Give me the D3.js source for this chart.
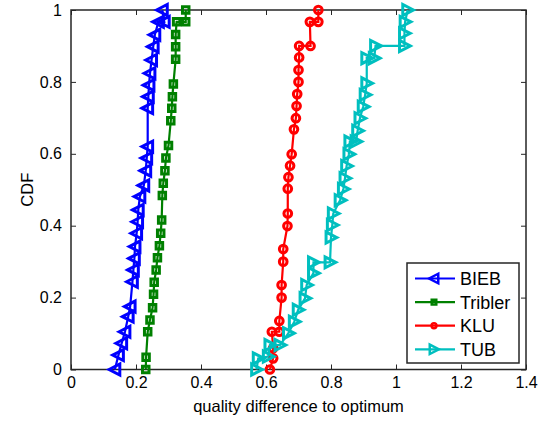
<!DOCTYPE html>
<html>
<head>
<meta charset="utf-8">
<script src="https://cdn.jsdelivr.net/npm/d3@7"></script>
<style>
  body { margin: 0; background: #fff; }
  text { font-family: "Liberation Sans", Arial, sans-serif; }
</style>
</head>
<body>
<div id="chart"></div>
<script>
// values, vertices in drawing order (bottom to top)
const biebX = [0.135, 0.146, 0.156, 0.166, 0.176, 0.182, 0.189, 0.192, 0.195, 0.197, 0.202, 0.205, 0.207, 0.212, 0.224, 0.230, 0.233, 0.236, 0.236, 0.238, 0.240, 0.243, 0.248, 0.253, 0.258, 0.269, 0.287, 0.281];
const biebY = [0, 0.040, 0.073, 0.105, 0.147, 0.175, 0.244, 0.277, 0.309, 0.342, 0.379, 0.411, 0.444, 0.481, 0.512, 0.553, 0.588, 0.620, 0.727, 0.759, 0.791, 0.824, 0.861, 0.898, 0.931, 0.967, 0.967, 1.0];

const triblerX = [0.230, 0.231, 0.236, 0.243, 0.251, 0.254, 0.256, 0.262, 0.266, 0.272, 0.276, 0.279, 0.281, 0.284, 0.289, 0.292, 0.300, 0.307, 0.310, 0.312, 0.315, 0.322, 0.322, 0.322, 0.325, 0.353, 0.353];
const triblerY = [0, 0.034, 0.105, 0.138, 0.172, 0.209, 0.243, 0.277, 0.311, 0.344, 0.379, 0.416, 0.484, 0.518, 0.553, 0.588, 0.623, 0.692, 0.727, 0.759, 0.794, 0.863, 0.898, 0.932, 0.967, 0.967, 1.0];

const kluX = [0.612, 0.622, 0.622, 0.618, 0.641, 0.641, 0.648, 0.648, 0.653, 0.653, 0.666, 0.667, 0.667, 0.669, 0.674, 0.679, 0.686, 0.692, 0.694, 0.696, 0.700, 0.700, 0.702, 0.702, 0.737, 0.735, 0.761, 0.761];
const kluY = [0, 0.031, 0.059, 0.105, 0.105, 0.135, 0.200, 0.235, 0.300, 0.335, 0.399, 0.434, 0.503, 0.535, 0.567, 0.599, 0.668, 0.699, 0.733, 0.766, 0.800, 0.833, 0.868, 0.900, 0.900, 0.967, 0.967, 1.0];

const tubX = [0.571, 0.576, 0.607, 0.612, 0.643, 0.669, 0.687, 0.699, 0.720, 0.725, 0.746, 0.746, 0.797, 0.800, 0.804, 0.807, 0.828, 0.838, 0.843, 0.848, 0.855, 0.858, 0.877, 0.882, 0.889, 0.899, 0.905, 0.910, 0.910, 0.933, 0.937, 1.026, 1.026, 1.028, 1.036];
const tubY = [0, 0.031, 0.036, 0.068, 0.068, 0.101, 0.133, 0.166, 0.198, 0.235, 0.268, 0.298, 0.298, 0.367, 0.402, 0.434, 0.471, 0.502, 0.532, 0.566, 0.599, 0.634, 0.634, 0.664, 0.699, 0.731, 0.764, 0.796, 0.866, 0.866, 0.900, 0.900, 0.935, 0.967, 1.0];

const seriesNames = ["BIEB", "Tribler", "KLU", "TUB"];
const seriesColours = ["#0000ff", "#008000", "#ff0000", "#00bfbf"];
const seriesMarkers = ["triLeft", "square", "circle", "triRight"];

const xTicks = [0, 0.2, 0.4, 0.6, 0.8, 1, 1.2, 1.4];
const yTicks = [0, 0.2, 0.4, 0.6, 0.8, 1];

const series = [
    { name: seriesNames[0], xs: biebX, ys: biebY },
    { name: seriesNames[1], xs: triblerX, ys: triblerY },
    { name: seriesNames[2], xs: kluX, ys: kluY },
    { name: seriesNames[3], xs: tubX, ys: tubY }
].map( (s, i) => ({
    name: s.name,
    colour: seriesColours[i],
    marker: seriesMarkers[i],
    points: s.xs.map( (x, j) => ({ x: x, y: s.ys[j] }) )
}));

const svgWidth = 556, svgHeight = 436;
const margin = { top: 10, right: 30, bottom: 66.5, left: 71 };
const width = svgWidth - margin.left - margin.right;
const height = svgHeight - margin.top - margin.bottom;

const svg = d3.select("#chart").append("svg")
    .attr("width", svgWidth)
    .attr("height", svgHeight);

const plotArea = svg.append("g")
    .attr("transform", `translate(${margin.left},${margin.top})`);

const x = d3.scaleLinear().domain([0, 1.4]).range([0, width]);
const y = d3.scaleLinear().domain([0, 1]).range([height, 0]);

const fmt = d => d3.format("~g")(d);

// marker paths, scale s
function markerPath(type, s) {
    if (type === "triLeft") return `M${-s},0L${s*0.85},${-s*0.95}L${s*0.85},${s*0.95}Z`;
    if (type === "triRight") return `M${s},0L${-s*0.85},${-s*0.95}L${-s*0.85},${s*0.95}Z`;
    if (type === "square") return `M${-s*0.65},${-s*0.65}h${s*1.3}v${s*1.3}h${-s*1.3}Z`;
    return `M${s*0.7},0A${s*0.7},${s*0.7},0,1,1,${-s*0.7},0A${s*0.7},${s*0.7},0,1,1,${s*0.7},0Z`;
}
const markerSize = { triLeft: 5.8, triRight: 5.8, square: 5, circle: 5.5 };

// axes, ticks inward on all four sides
const axisStyle = g => {
    g.select(".domain").remove();
    g.selectAll("line").attr("stroke", "#262626").attr("stroke-width", 1);
    g.selectAll("text").attr("font-size", 16).attr("fill", "#000");
};

plotArea.append("g")
    .attr("transform", `translate(0,${height})`)
    .call(d3.axisBottom(x).tickValues(xTicks).tickFormat(fmt).tickSizeInner(-5).tickSizeOuter(0).tickPadding(7))
    .call(axisStyle);

plotArea.append("g")
    .call(d3.axisTop(x).tickValues(xTicks).tickFormat("").tickSizeInner(-5).tickSizeOuter(0))
    .call(axisStyle);

plotArea.append("g")
    .call(d3.axisLeft(y).tickValues(yTicks).tickFormat(fmt).tickSizeInner(-5).tickSizeOuter(0).tickPadding(9))
    .call(axisStyle);

plotArea.append("g")
    .attr("transform", `translate(${width},0)`)
    .call(d3.axisRight(y).tickValues(yTicks).tickFormat("").tickSizeInner(-5).tickSizeOuter(0))
    .call(axisStyle);

plotArea.append("rect")
    .attr("width", width)
    .attr("height", height)
    .attr("fill", "none")
    .attr("stroke", "#262626")
    .attr("stroke-width", 1.5);

// series
const line = d3.line().x(d => x(d.x)).y(d => y(d.y));

const groups = plotArea.selectAll(".series")
    .data(series)
    .enter().append("g")
        .attr("class", "series");

groups.append("path")
    .attr("d", d => line(d.points))
    .attr("fill", "none")
    .attr("stroke", d => d.colour)
    .attr("stroke-width", 2.2);

groups.each(function(s) {
    d3.select(this).selectAll(".marker")
        .data(s.points)
        .enter().append("path")
            .attr("class", "marker")
            .attr("transform", d => `translate(${x(d.x)},${y(d.y)})`)
            .attr("d", markerPath(s.marker, markerSize[s.marker]))
            .attr("fill", "none")
            .attr("stroke", s.colour)
            .attr("stroke-width", 3)
            .attr("stroke-linejoin", "miter");
});

// axis titles
svg.append("text")
    .attr("x", margin.left + width / 2)
    .attr("y", 412)
    .attr("text-anchor", "middle")
    .attr("font-size", 16.5)
    .text("quality difference to optimum");

svg.append("text")
    .attr("transform", `translate(33,${margin.top + height / 2}) rotate(-90)`)
    .attr("text-anchor", "middle")
    .attr("font-size", 16.5)
    .text("CDF");

// legend
const legend = svg.append("g").attr("transform", "translate(407,263)");

legend.append("rect")
    .attr("width", 112)
    .attr("height", 100)
    .attr("fill", "#fff")
    .attr("stroke", "#262626")
    .attr("stroke-width", 1.5);

const items = legend.selectAll(".item")
    .data(series)
    .enter().append("g")
        .attr("class", "item")
        .attr("transform", (d, i) => `translate(0,${15.5 + i * 23.6})`);

items.append("line")
    .attr("x1", 8).attr("x2", 48)
    .attr("stroke", d => d.colour)
    .attr("stroke-width", 2.2);

items.append("path")
    .attr("transform", "translate(27,0)")
    .attr("d", d => markerPath(d.marker, d.marker === "triLeft" || d.marker === "triRight" ? 5 : 3.5))
    .attr("fill", "none")
    .attr("stroke", d => d.colour)
    .attr("stroke-width", 2.5);

items.append("text")
    .attr("x", 53)
    .attr("dy", "0.36em")
    .attr("font-size", 18)
    .text(d => d.name);
</script>
</body>
</html>
